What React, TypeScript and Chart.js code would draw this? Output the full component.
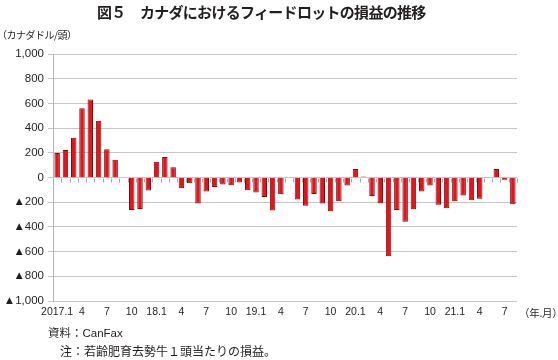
import { useEffect, useRef } from "react";
import { Chart, registerables } from "chart.js";

Chart.register(...registerables);

const monthLabels = [
  "2017.1", "", "", "4", "", "", "7", "", "", "10", "", "",
  "18.1", "", "", "4", "", "", "7", "", "", "10", "", "",
  "19.1", "", "", "4", "", "", "7", "", "", "10", "", "",
  "20.1", "", "", "4", "", "", "7", "", "", "10", "", "",
  "21.1", "", "", "4", "", "", "7", "",
];

const profitLoss = [
  198, 222, 322, 561, 631, 460, 229, 143, -4, -263, -256, -106,
  128, 165, 84, -87, -46, -211, -114, -76, -57, -62, -41, -103,
  -122, -157, -268, -135, -4, -179, -228, -133, -211, -274, -192, -65,
  68, 8, -149, -208, -637, -263, -358, -257, -114, -65, -220, -249,
  -192, -146, -184, -173, -3, 68, -19, -217,
];

const yMin = -1000;
const yMax = 1000;
const yStep = 200;

const TEXT = "#231f20";
const GRID = "#c6c6c6";
const JP = '"Noto Sans CJK JP", "Noto Sans", sans-serif';
const MIX = '"Liberation Sans", "Noto Sans CJK JP", sans-serif';
const NUM = '"Liberation Sans", Arial, sans-serif';

const zeroTicks = {
  id: "zeroTicks",
  afterDatasetsDraw(chart: any) {
    const x = chart.scales.x;
    const y = chart.scales.y;
    const ctx = chart.ctx;
    const y0 = Math.round(y.getPixelForValue(0)) + 0.5;
    ctx.save();
    ctx.strokeStyle = "#a8a8a8";
    ctx.lineWidth = 1;
    const n = chart.data.labels.length;
    for (let i = 0; i <= n; i++) {
      const px = Math.round(x.getPixelForValue(i - 0.5)) + 0.5;
      ctx.beginPath();
      ctx.moveTo(px, y0);
      ctx.lineTo(px, y0 + 4);
      ctx.stroke();
    }
    ctx.restore();
  },
};

export default function App() {
  const ref = useRef<HTMLCanvasElement>(null);

  useEffect(() => {
    if (!ref.current) return;
    const chart = new Chart(ref.current, {
      type: "bar",
      data: {
        labels: monthLabels,
        datasets: [
          {
            data: profitLoss,
            backgroundColor: "#e0161c",
            borderColor: "#8a0a0c",
            borderWidth: 1,
            barPercentage: 0.66,
            categoryPercentage: 1,
          },
        ],
      },
      options: {
        animation: false,
        responsive: false,
        events: [],
        layout: { padding: { left: 0, right: 41, top: 54, bottom: 0 } },
        plugins: {
          legend: { display: false },
          tooltip: { enabled: false },
          title: { display: false },
        },
        scales: {
          x: {
            offset: true,
            grid: { display: false, drawTicks: false },
            border: { display: false },
            ticks: {
              autoSkip: false,
              maxRotation: 0,
              minRotation: 0,
              padding: 5,
              color: TEXT,
              font: { family: NUM, size: 10.5 },
            },
            afterFit: (s: any) => {
              s.height = 59;
            },
          },
          y: {
            min: yMin,
            max: yMax,
            ticks: {
              stepSize: yStep,
              padding: 4,
              color: TEXT,
              font: { family: NUM, size: 11.5 },
              callback: (v: any) => {
                const n = Number(v);
                const s = Math.abs(n).toLocaleString("en-US");
                return n < 0 ? "▲" + s : s;
              },
            },
            grid: { color: GRID, lineWidth: 1, tickLength: 5 },
            border: { color: "#b4b4b4" },
            afterFit: (s: any) => {
              s.width = 53;
            },
          },
        },
      },
      plugins: [zeroTicks],
    });
    return () => chart.destroy();
  }, []);

  const abs = (extra: any) => ({ position: "absolute" as const, whiteSpace: "nowrap" as const, color: TEXT, ...extra });

  return (
    <div style={{ position: "absolute", left: 0, top: 0, width: 558, height: 360, background: "#fff", overflow: "hidden" }}>
      <canvas ref={ref} width={558} height={360} style={{ position: "absolute", left: 0, top: 0, width: 558, height: 360 }} />
      <div style={abs({ left: 97, top: 2, fontFamily: JP, fontSize: 15, fontWeight: 700, lineHeight: "20px", letterSpacing: "-0.7px" })}>
        図５　カナダにおけるフィードロットの損益の推移
      </div>
      <div style={abs({ left: -3, top: 28, fontFamily: JP, fontSize: 10, lineHeight: "14px", letterSpacing: "-0.5px" })}>（カナダドル/頭）</div>
      <div style={abs({ left: 519, top: 306, fontFamily: JP, fontSize: 10.5, lineHeight: "14px", letterSpacing: "-0.3px" })}>（年.月）</div>
      <div style={abs({ left: 48, top: 326, fontFamily: MIX, fontSize: 11.5, lineHeight: "15px" })}>資料：CanFax</div>
      <div style={abs({ left: 60, top: 343, fontFamily: JP, fontSize: 12, lineHeight: "16px" })}>注：若齢肥育去勢牛１頭当たりの損益。</div>
    </div>
  );
}
